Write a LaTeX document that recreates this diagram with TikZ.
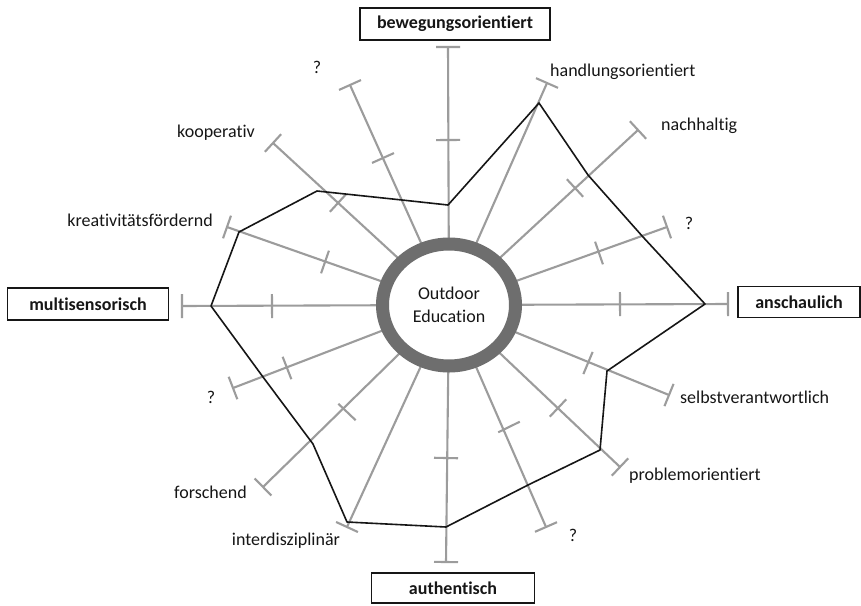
\documentclass[tikz,border=0pt]{standalone}
\usepackage{fontspec}
\setmainfont{Carlito}[RawFeature={-liga;-clig;-dlig}]
\usetikzlibrary{calc,shapes.geometric}
\definecolor{spokegray}{HTML}{9C9C9C}
\definecolor{ringgray}{HTML}{6E6E6E}
\definecolor{inkc}{HTML}{161616}
\begin{document}
\begin{tikzpicture}[x=1pt,y=-1pt,
  spoke/.style={draw=spokegray,line width=2.1pt},
  profile/.style={draw=inkc,line width=1.6pt,line join=round},
  axisbox/.style={draw=inkc,line width=1.4pt,fill=white,inner sep=0pt,font=\fontsize{18}{22}\selectfont\bfseries,text=inkc},
  lbl/.style={inner sep=0pt,font=\fontsize{18}{22}\selectfont,text=inkc},
  ringnode/.style={ellipse,draw=ringgray,line width=13pt,fill=white,inner sep=0pt,
    minimum width=133pt,minimum height=122pt,align=center,
    font=\fontsize{18}{23}\selectfont,text=inkc}]
\useasboundingbox (0,0) rectangle (861,605);
\fill[white] (0,0) rectangle (861,605);
\coordinate (c) at (449,305);
% spoke end points
\foreach \n/\x/\y in {1/448/47,2/350/85,3/273/143,4/227/227,5/182/306,6/233/388,7/263/487,8/347/527,
  9/446/562,10/546/527,11/620/467,12/669/395,13/728/304,14/667/227,15/638/130,16/547/83}
  \coordinate (e\n) at (\x,\y);
% tick points
\foreach \n/\x/\y in {1/448/140,2/383/158,3/338/203,4/325/262,5/272/306,6/287/368,7/347/412,
  9/446/458,10/509/427,11/558/408,12/588/363,13/620/304,14/599/253,15/575/188}
  \coordinate (t\n) at (\x,\y);
% spokes and end caps
\foreach \n in {1,...,16}{
  \draw[spoke] (c) -- (e\n);
  \draw[spoke] ($(e\n)!12pt!90:(c)$) -- ($(e\n)!12pt!-90:(c)$);
}
\foreach \n in {1,2,3,4,5,6,7,9,10,11,12,13,14,15}{
  \draw[spoke] ($(t\n)!12pt!90:(c)$) -- ($(t\n)!12pt!-90:(c)$);
}
% profile polygon
\foreach \n/\x/\y in {1/448/205,2/402/200,3/317/191,4/239/232,5/211/306,6/263/377,7/313/444,8/347/522,
  9/446/527,10/528/485,11/600/450,12/607/371,13/705/304,14/643/237,15/588/175,16/539/103}
  \coordinate (p\n) at (\x,\y);
\draw[profile] (p1) -- (p2) -- (p3) -- (p4) -- (p5) -- (p6) -- (p7) -- (p8) -- (p9) -- (p10)
  -- (p11) -- (p12) -- (p13) -- (p14) -- (p15) -- (p16) -- cycle;
% central ring
\node[ringnode] (ring) at (c) {Outdoor\\Education};
% boxed main axes
\node[axisbox,minimum width=190pt,minimum height=32pt] (bew) at (455,24) {bewegungsorientiert};
\node[axisbox,minimum width=122pt,minimum height=31pt] (ans) at (799,302) {anschaulich};
\node[axisbox,minimum width=163pt,minimum height=30pt] (aut) at (453,588) {authentisch};
\node[axisbox,minimum width=161pt,minimum height=32pt] (mul) at (88,304) {multisensorisch};
% other labels
\node[lbl,anchor=west] (hand) at (550,72) {handlungsorientiert};
\node[lbl,anchor=west] (nach) at (661,126) {nachhaltig};
\node[lbl] (q1) at (689,223) {?};
\node[lbl,anchor=west] (selb) at (680,397) {selbstverantwortlich};
\node[lbl,anchor=west] (prob) at (629,476) {problemorientiert};
\node[lbl] (q2) at (573,535) {?};
\node[lbl] (inter) at (286,541) {interdisziplinär};
\node[lbl,anchor=east] (forsch) at (247,492) {forschend};
\node[lbl] (q3) at (211,397) {?};
\node[lbl,anchor=east] (krea) at (213,220) {kreativitätsfördernd};
\node[lbl,anchor=west] (koop) at (177,133) {kooperativ};
\node[lbl] (q4) at (317,67) {?};
\end{tikzpicture}
\end{document}
